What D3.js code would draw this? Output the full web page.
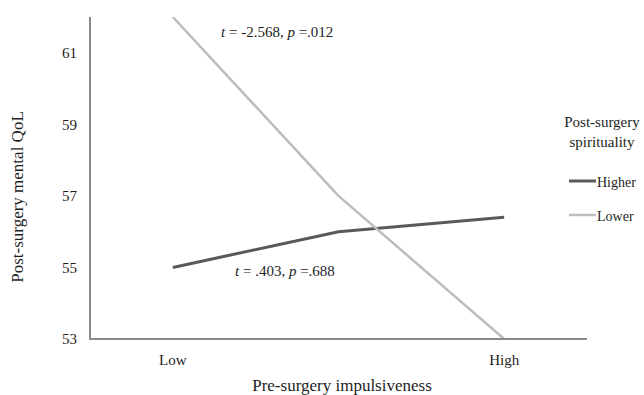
<!DOCTYPE html>
<html>
<head>
<meta charset="utf-8">
<script src="https://cdn.jsdelivr.net/npm/d3@7"></script>
<style>
  html, body { margin: 0; padding: 0; background: #fff; }
  svg { display: block; font-family: "Liberation Serif", "Times New Roman", serif; }
</style>
</head>
<body>
<svg id="chart" width="644" height="395"></svg>
<script>
// ---- data ----
const categories = ["Low", "Mid", "High"];
const xTickLabels = ["Low", "", "High"];
const yTicks = [53, 55, 57, 59, 61];
const seriesNames = ["Higher", "Lower"];
const higherValues = [55.0, 56.0, 56.4];
const lowerValues = [62.0, 57.0, 53.0];
const annotations = [
  { t: "-2.568", p: ".012" },
  { t: ".403", p: ".688" }
];

// ---- layout ----
const svg = d3.select("#chart");
const plot = { left: 90, right: 587, top: 17, bottom: 339 };

const x = d3.scaleBand().domain(categories).range([plot.left, plot.right]);
const y = d3.scaleLinear().domain([53, 62]).range([plot.bottom, plot.top]);
const cx = c => x(c) + x.bandwidth() / 2;

const colors = { Higher: "#595959", Lower: "#bdbdbd" };
const widths = { Higher: 3, Lower: 2.5 };
const textColor = "#1e1e1e";

// lines
const series = [
  { name: "Higher", values: higherValues },
  { name: "Lower", values: lowerValues }
];
const line = d3.line().x((d, i) => cx(categories[i])).y(d => y(d));

svg.append("clipPath").attr("id", "clip")
  .append("rect").attr("x", plot.left).attr("y", plot.top)
  .attr("width", plot.right - plot.left).attr("height", plot.bottom - plot.top);

svg.append("g").attr("clip-path", "url(#clip)")
  .selectAll("path").data(series).join("path")
  .attr("d", d => line(d.values))
  .attr("fill", "none")
  .attr("stroke", d => colors[d.name])
  .attr("stroke-width", d => widths[d.name])
  .attr("stroke-linejoin", "round");

// axes
const yAxis = d3.axisLeft(y).tickValues(yTicks).tickSize(0).tickPadding(13);
const gy = svg.append("g").attr("transform", `translate(${plot.left},0)`).call(yAxis);
gy.select(".domain").attr("stroke", "#8a8a8a").attr("stroke-width", 2).attr("d", `M0,${plot.top}V${plot.bottom}`);
gy.selectAll("text").attr("font-size", 15).attr("fill", textColor).attr("font-family", "Liberation Serif");

const xAxis = d3.axisBottom(x).tickSize(0).tickPadding(15).tickFormat((d, i) => xTickLabels[i]);
const gx = svg.append("g").attr("transform", `translate(0,${plot.bottom})`).call(xAxis);
gx.select(".domain").attr("stroke", "#8a8a8a").attr("stroke-width", 2).attr("d", `M${plot.left - 1},0H${plot.right}`);
gx.selectAll("text").attr("font-size", 15).attr("fill", textColor).attr("font-family", "Liberation Serif");

// axis titles
svg.append("text")
  .attr("transform", `translate(23,197) rotate(-90)`)
  .attr("text-anchor", "middle")
  .attr("font-size", 17).attr("fill", textColor)
  .text("Post-surgery mental QoL");

svg.append("text")
  .attr("x", 342).attr("y", 391)
  .attr("text-anchor", "middle")
  .attr("font-size", 17).attr("fill", textColor)
  .text("Pre-surgery impulsiveness");

// annotations
function annot(a, xPos, yPos) {
  const t = svg.append("text").attr("x", xPos).attr("y", yPos)
    .attr("font-size", 15).attr("fill", textColor);
  t.append("tspan").attr("font-style", "italic").text("t");
  t.append("tspan").text(` = ${a.t}, `);
  t.append("tspan").attr("font-style", "italic").text("p");
  t.append("tspan").text(` =${a.p}`);
}
annot(annotations[0], 221, 37);
annot(annotations[1], 235, 276);

// legend
const lg = svg.append("g");
lg.append("text").attr("x", 602).attr("y", 127).attr("text-anchor", "middle")
  .attr("font-size", 15).attr("fill", textColor).text("Post-surgery");
lg.append("text").attr("x", 602).attr("y", 147).attr("text-anchor", "middle")
  .attr("font-size", 15).attr("fill", textColor).text("spirituality");
const legendY = { Higher: 181, Lower: 215 };
seriesNames.forEach(n => {
  lg.append("line").attr("x1", 569).attr("x2", 596)
    .attr("y1", legendY[n]).attr("y2", legendY[n])
    .attr("stroke", colors[n]).attr("stroke-width", widths[n]);
  lg.append("text").attr("x", 597).attr("y", legendY[n] + 6)
    .attr("font-size", 14).attr("fill", textColor).text(n);
});
</script>
</body>
</html>
